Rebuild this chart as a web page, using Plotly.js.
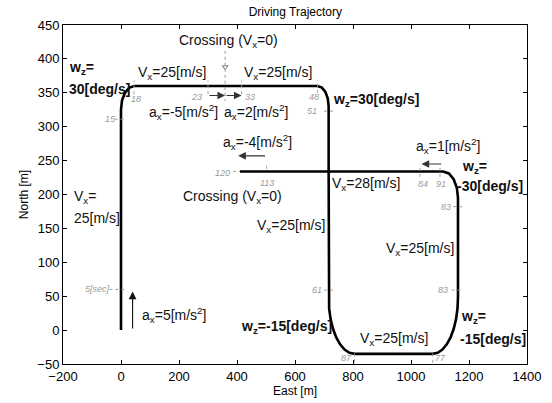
<!DOCTYPE html>
<html>
<head>
<meta charset="utf-8">
<script src="https://cdn.plot.ly/plotly-3.0.1.min.js"></script>
<style>
  html, body { margin: 0; padding: 0; background: #fff; }
  #chart { width: 552px; height: 403px; }
</style>
</head>
<body>
<div id="chart"></div>
<script>
// Vehicle path (East / North, metres)
const pathEast = [0, 0, 0, 0, 3.4, 13.2, 27.8, 45,
  300, 359, 416, 678, 692.5, 704.9, 713.1, 716,
  716, 716, 717.7, 722.8, 731, 742.1, 755.6, 770.9, 787.6, 805,
  1075, 1092, 1108.3, 1123.3, 1136.5, 1147.3, 1155.4, 1160.3, 1162,
  1162, 1158.1, 1147.1, 1130.5, 1111,
  410];
const pathNorth = [0, 60, 311, 325, 338.4, 349.7, 357.3, 360,
  360, 360, 360, 360, 357.7, 351.2, 341.5, 330,
  234, 48, 31.8, 16.2, 1.9, -10.7, -21, -28.7, -33.4, -35,
  -35, -33.4, -28.7, -21, -10.7, 1.9, 16.2, 31.8, 48,
  195, 209.9, 222.6, 231, 234,
  234];

// Time stamps along the path
const stampText  = ['5[sec]', '15', '18', '23', '33', '48', '51', '120', '113', '84', '91', '83', '61', '83', '87', '77'];
const stampEast  = [-82, -35, 52, 262, 445, 665, 660, 350, 502, 1040, 1105, 1120, 675, 1111, 776, 1100];
const stampNorth = [60, 311, 341, 344, 344, 344, 323, 232, 217, 216, 216, 182, 59, 59, -41, -41];
// Dotted tick beside each stamp: start / end
const tickE0 = [-40, -22, 45, 300, 416, 678, 700, 386, 502, 1031, 1100, 1145, 700, 1140, 805, 1075];
const tickN0 = [60, 311, 348, 348, 348, 350, 323, 234, 238, 226, 226, 182, 59, 59, -48, -48];
const tickE1 = [15, 15, 45, 300, 416, 678, 735, 410, 502, 1031, 1100, 1180, 735, 1180, 805, 1075];
const tickN1 = [60, 311, 368, 368, 368, 368, 323, 234, 246, 244, 244, 182, 59, 59, -30, -30];

// Centred notes
const noteText = [
  'Crossing (V<sub>x</sub>=0)', 'V<sub>x</sub>=25[m/s]', 'V<sub>x</sub>=25[m/s]',
  '<b>w<sub>z</sub>=30[deg/s]</b>', 'a<sub>x</sub>=-5[m/s<sup>2</sup>]', 'a<sub>x</sub>=2[m/s<sup>2</sup>]',
  'a<sub>x</sub>=-4[m/s<sup>2</sup>]', 'a<sub>x</sub>=1[m/s<sup>2</sup>]', 'Crossing (V<sub>x</sub>=0)',
  'V<sub>x</sub>=28[m/s]', 'V<sub>x</sub>=25[m/s]', 'V<sub>x</sub>=25[m/s]',
  'a<sub>x</sub>=5[m/s<sup>2</sup>]', '<b>w<sub>z</sub>=-15[deg/s]</b>', 'V<sub>x</sub>=25[m/s]'];
const noteEast  = [372, 176, 541, 880, 216, 466, 472, 1128, 386, 845, 585, 1031, 183, 569, 941];
const noteNorth = [427, 379, 379, 340, 321, 321, 277, 272, 197, 215, 153, 119, 23, 4, -13];

// Left-aligned two-line notes
const sideText  = ['<b>w<sub>z</sub>=</b>', '<b>30[deg/s]</b>', 'V<sub>x</sub>=', '25[m/s]',
  '<b>w<sub>z</sub>=</b>', '<b>-30[deg/s]</b>', '<b>w<sub>z</sub>=</b>', '<b>-15[deg/s]</b>'];
const sideEast  = [-186, -186, -168, -170, 1170, 1153, 1166, 1163];
const sideNorth = [387, 355, 197, 165, 240, 212, 19, -13];

// Acceleration arrows: tail -> head
const arrowTailE = [40, 300, 359, 502, 1109];
const arrowTailN = [0, 346, 346, 257, 245];
const arrowHeadE = [40, 359, 416, 404, 1036];
const arrowHeadN = [57, 346, 346, 257, 245];

// Crossing marker
const crossE = [359];
const crossN = [388];

const textFont = { family: 'Arial, "Liberation Sans", sans-serif', size: 14, color: '#111' };
const stampFont = { family: 'Arial, "Liberation Sans", sans-serif', size: 9, color: '#9a9a9a' };

const annotations = [];
noteText.forEach((t, i) => annotations.push({
  x: noteEast[i], y: noteNorth[i], xref: 'x', yref: 'y', text: t,
  showarrow: false, xanchor: 'center', yanchor: 'middle', font: textFont
}));
sideText.forEach((t, i) => annotations.push({
  x: sideEast[i], y: sideNorth[i], xref: 'x', yref: 'y', text: t,
  showarrow: false, xanchor: 'left', yanchor: 'middle', font: textFont
}));
stampText.forEach((t, i) => annotations.push({
  x: stampEast[i], y: stampNorth[i], xref: 'x', yref: 'y', text: '<i>' + t + '</i>',
  showarrow: false, xanchor: 'center', yanchor: 'middle', font: stampFont
}));
arrowTailE.forEach((e, i) => annotations.push({
  x: arrowHeadE[i], y: arrowHeadN[i], xref: 'x', yref: 'y',
  ax: e, ay: arrowTailN[i], axref: 'x', ayref: 'y', text: '',
  showarrow: true, arrowhead: 2, arrowsize: 1.4, arrowwidth: 1.1,
  arrowcolor: i === 0 ? '#111' : '#333', standoff: 0, startstandoff: 0
}));

const shapes = [];
stampText.forEach((t, i) => shapes.push({
  type: 'line', xref: 'x', yref: 'y',
  x0: tickE0[i], y0: tickN0[i], x1: tickE1[i], y1: tickN1[i],
  line: { color: '#a0a0a0', width: 1, dash: 'dot' }
}));
// dotted guide through the crossing point
shapes.push({
  type: 'line', xref: 'x', yref: 'y', x0: crossE[0], x1: crossE[0], y0: 412, y1: 338,
  line: { color: '#999', width: 1, dash: 'dot' }
});

const traces = [
  {
    x: pathEast, y: pathNorth, type: 'scatter', mode: 'lines',
    line: { color: '#000', width: 2.6 }, hoverinfo: 'skip'
  },
  {
    x: crossE, y: crossN, type: 'scatter', mode: 'markers',
    marker: { symbol: 'triangle-down-open', size: 5, color: '#777', line: { width: 1 } },
    hoverinfo: 'skip'
  }
];

const axisBase = {
  showgrid: false, zeroline: false, showline: true, linecolor: '#000', linewidth: 1,
  mirror: 'ticks', ticks: 'inside', ticklen: 4, tickcolor: '#000',
  tickfont: { family: 'Arial, "Liberation Sans", sans-serif', size: 13, color: '#000' }
};

const layout = {
  width: 552, height: 403,
  margin: { l: 63, r: 25, t: 25, b: 39 },
  paper_bgcolor: '#fff', plot_bgcolor: '#fff',
  showlegend: false,
  title: {
    text: 'Driving Trajectory', x: 0.535, xanchor: 'center', y: 0.97, yanchor: 'middle',
    font: { family: 'Arial, "Liberation Sans", sans-serif', size: 12, color: '#000' }
  },
  xaxis: Object.assign({}, axisBase, {
    range: [-200, 1400], dtick: 200, tick0: 0,
    title: { text: 'East [m]', standoff: 4,
      font: { family: 'Arial, "Liberation Sans", sans-serif', size: 12, color: '#000' } }
  }),
  yaxis: Object.assign({}, axisBase, {
    range: [-50, 450], dtick: 50, tick0: 0,
    title: { text: 'North [m]', standoff: 6,
      font: { family: 'Arial, "Liberation Sans", sans-serif', size: 12, color: '#000' } }
  }),
  annotations: annotations,
  shapes: shapes
};

Plotly.newPlot('chart', traces, layout, { displayModeBar: false, staticPlot: true });
</script>
</body>
</html>
